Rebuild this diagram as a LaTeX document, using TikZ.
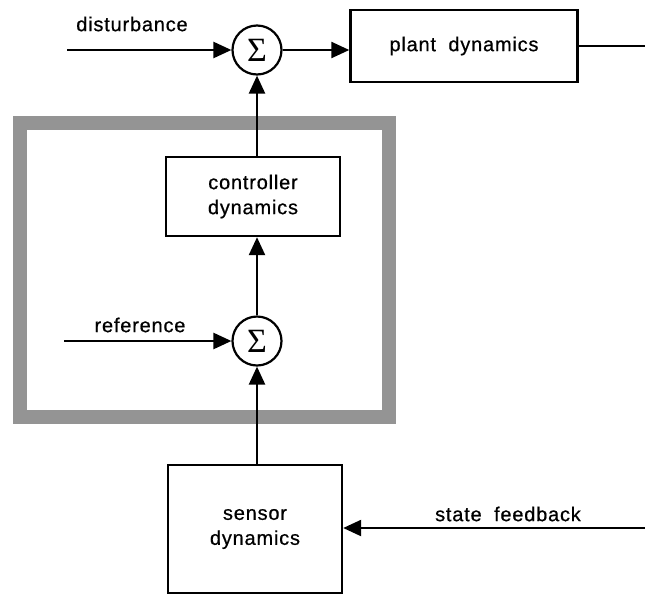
\documentclass[tikz,border=0pt]{standalone}
\usepackage{fontspec}
\setmainfont{Liberation Sans}[LetterSpace=4,FakeBold=0.6]
\newfontfamily\sigmafont{Liberation Serif}
\usetikzlibrary{arrows.meta}
\tikzset{
  blk/.style={draw, line width=2.4pt, minimum width=#1, inner sep=0pt, align=center, font=\fontsize{20}{25}\selectfont},
  sumnode/.style={draw, circle, line width=2.2pt, minimum size=49pt, inner sep=0pt, font=\sigmafont\fontsize{34}{34}\selectfont},
  lbl/.style={font=\fontsize{20}{24}\selectfont, inner sep=0pt},
  sig/.style={line width=2.4pt, -{Triangle[length=18pt,width=16pt]}},
  wire/.style={line width=2.4pt},
  band/.style={draw=black!42, line width=14pt}
}
\begin{document}
\begin{tikzpicture}[x=1pt,y=-1pt]
\useasboundingbox (0,0) rectangle (645,595);
% gray frame
\draw[band] (20,122.5) rectangle (388.5,416.5);
% nodes
\node[sumnode] (s1) at (257,50) {Σ};
\node[sumnode] (s2) at (257,341) {Σ};
\node[blk=227pt, minimum height=72pt] (plant) at (464,46) {plant\hspace{0.3em} dynamics};
\node[blk=174pt, minimum height=79pt] (ctrl) at (253,196.5) {controller\\dynamics};
\node[blk=174pt, minimum height=128pt] (sens) at (255,529) {sensor\\dynamics};
% free ends
\coordinate (dIn) at (67,50);
\coordinate (rIn) at (64,341);
\coordinate (pOut) at (645,46);
\coordinate (fIn) at (645,528);
% labels
\node[lbl] (ldist) at (132,24) {disturbance};
\node[lbl] (lref) at (140,325) {reference};
\node[lbl] (lstate) at (508,514) {state\hspace{0.3em} feedback};
% connectors
\draw[sig] (dIn) -- (s1.west);
\draw[sig] (s1.east) -- (s1.east -| plant.west);
\draw[wire] (plant.east) -- (pOut);
\draw[sig] (ctrl.north -| s1.south) -- (s1.south);
\draw[sig] (s2.north) -- (s2.north |- ctrl.south);
\draw[sig] (rIn) -- (s2.west);
\draw[sig] (sens.north -| s2.south) -- (s2.south);
\draw[sig] (fIn) -- (fIn -| sens.east);
\end{tikzpicture}
\end{document}
